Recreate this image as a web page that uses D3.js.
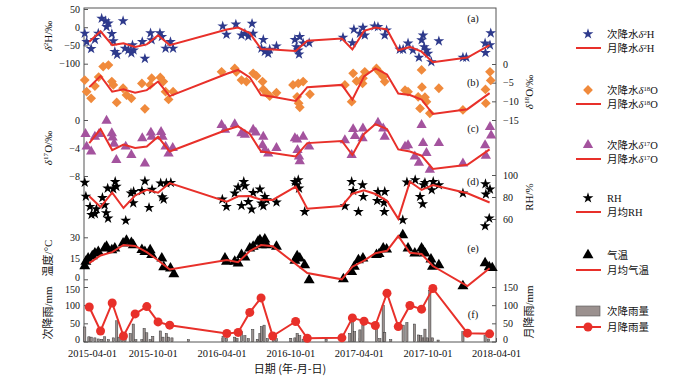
<!DOCTYPE html>
<html><head><meta charset="utf-8">
<script src="https://cdn.jsdelivr.net/npm/d3@7"></script>
<style>body{margin:0;background:#fff}</style>
</head><body><svg id="c" width="700" height="379"></svg>
<script>
// ---------- data ----------
const months = ["2015-04","2015-05","2015-06","2015-07","2015-08","2015-09","2015-10","2015-11",
  "2016-04","2016-05","2016-06","2016-07","2016-08","2016-10","2016-11",
  "2017-02","2017-03","2017-04","2017-05","2017-06","2017-07","2017-08","2017-09","2017-10",
  "2018-01","2018-03"];
const d2hMonthly = [-40,-11,-49,-44,-54,-47,-22,-49, -6,-1,-16,-60,-61,-65,-37, -31,-61,-10,-1,-6,-63,-54,-67,-96, -83,-49];
const d18oMonthly = [-6.2,-3.2,-7.4,-6.8,-7.7,-7.0,-4.7,-8.6, -2.6,-1.6,-3.6,-8.3,-8.8,-9.9,-6.2, -5.6,-9.5,-3.3,-1.2,-2.8,-7.9,-8.3,-9.5,-13.4, -12.1,-7.8];
const d17oMonthly = [-3.3,-1.3,-4.3,-3.5,-4.0,-3.8,-2.4,-4.5, -1.4,-0.9,-2.0,-4.5,-4.7,-5.2,-3.3, -3.0,-5.0,-2.0,-0.6,-1.3,-4.2,-4.5,-5.1,-7.0, -6.4,-4.2];
const rhMonthly = [80.6,70.9,83.9,70,81.4,86.6,83.9,92.7, 75.7,80.6,80.9,77.5,77.3,89.4,69.4, 71.8,83,86.1,82.7,76.5,60.2,93.9,86.4,90.9, 83.4,75];
const tMonthly = [11.6,17,19.4,24.5,23.8,19.4,13.6,7, 13.8,12.2,20.2,24.5,23.6,10.9,4.5, 0,9,13.4,18.6,20.4,30.9,19,18.1,9.5, -4.8,7.9];
const rainMonthly = [95,29,106,15,76,96,54,45, 22,25,80,120,15,55,9, 10,65,56,44,133,41,99,89,146, 23,21];

const d2hEvents = [["2015-04-03",-17],["2015-04-08",-40],["2015-04-20",-59],["2015-04-30",-34],["2015-05-09",-17],["2015-05-18",24],["2015-05-28",17],["2015-06-05",11],["2015-05-31",1],["2015-06-14",-18],["2015-06-18",-38],["2015-06-22",-67],["2015-06-28",-75],["2015-07-14",17],["2015-07-19",-58],["2015-07-28",-63],["2015-08-05",-71],["2015-08-11",-63],["2015-08-08",-49],["2015-09-03",-40],["2015-09-10",-86],["2015-09-25",-16],["2015-09-28",-35],["2015-10-20",-16],["2015-10-25",-26],["2015-11-04",-58],["2015-11-17",-40],["2015-11-24",-58],
["2016-04-04",3],["2016-04-14",-20],["2016-05-09",8],["2016-05-24",-22],["2016-06-02",-17],["2016-06-11",-25],["2016-06-21",10],["2016-06-24",-17],["2016-07-21",-34],["2016-07-16",-58],["2016-07-25",-67],["2016-08-03",-72],["2016-08-07",-61],["2016-08-25",-52],["2016-10-13",-34],["2016-10-17",-54],["2016-10-22",-63],["2016-10-24",-74],["2016-10-26",-26],["2016-11-04",-44],["2016-11-20",-43],
["2017-02-18",-28],["2017-03-15",-43],["2017-03-19",-6],["2017-04-04",-17],["2017-04-12",-1],["2017-04-17",-22],["2017-05-13",3],["2017-05-22",1],["2017-06-14",-8],["2017-06-09",-22],["2017-07-19",-61],["2017-07-28",-61],["2017-08-10",-44],["2017-08-23",-63],["2017-09-08",-83],["2017-09-15",-35],["2017-09-19",-22],["2017-09-22",-54],["2017-09-28",-63],["2017-10-02",-72],["2017-10-31",-38],["2017-10-11",-95],["2018-01-03",-83],["2018-01-12",-83],["2018-03-03",-44],["2018-03-18",-16],["2018-03-04",-70],["2018-03-16",-49]];

const d18oEvents = [["2015-04-03",-4.3],["2015-04-08",-7.4],["2015-04-20",-9.2],["2015-04-30",-5.9],["2015-05-10",-3.5],["2015-05-22",-0.7],["2015-06-05",-0.3],["2015-06-14",-4.7],["2015-06-18",-5.6],["2015-06-27",-10.3],["2015-07-14",-6.5],["2015-07-23",-8.3],["2015-08-05",-9.2],["2015-09-02",-5.2],["2015-09-10",-12],["2015-09-28",-3.8],["2015-09-24",-5.6],["2015-10-21",-3.6],["2015-10-29",-4.7],["2015-11-04",-7.4],["2015-11-12",-9.5],["2015-11-24",-7.4],
["2016-04-01",-2.1],["2016-05-06",-1.2],["2016-05-10",-2.1],["2016-05-24",-4.3],["2016-06-06",-4.7],["2016-06-24",-2.5],["2016-07-03",-3.2],["2016-07-19",-4.7],["2016-07-21",-6.8],["2016-07-30",-7.8],["2016-08-07",-8.6],["2016-08-25",-7.7],["2016-10-08",-5.6],["2016-10-22",-5.2],["2016-11-04",-4.7],["2016-10-19",-8.8],["2016-10-23",-10.5],["2016-10-26",-11.6],["2016-11-22",-8.1],
["2017-02-23",-5.6],["2017-03-13",-10.1],["2017-03-17",-2.5],["2017-03-26",-4.6],["2017-04-12",-3.8],["2017-04-11",-5.2],["2017-04-17",-2.1],["2017-05-18",-1.2],["2017-05-25",-2.1],["2017-06-05",-3.4],["2017-06-09",-4.7],["2017-08-02",-7],["2017-08-10",-7.4],["2017-09-06",-8.8],["2017-09-11",-11.9],["2017-09-15",-1.6],["2017-09-16",-6.2],["2017-09-24",-8.9],["2017-09-28",-10.1],["2017-10-07",-13.2],["2017-10-31",-6.5],["2018-01-03",-12.3],["2018-03-04",-6.8],["2018-03-05",-10.5],["2018-03-16",-2.1],["2018-03-18",-4.4]];

const d17oEvents = [["2015-04-05",-2],["2015-04-08",-3.8],["2015-04-20",-4.5],["2015-04-30",-2.4],["2015-05-11",-2],["2015-05-31",-0.1],["2015-06-14",-1.9],["2015-06-16",-2.5],["2015-06-20",-3.4],["2015-06-26",-5.7],["2015-07-21",-3.8],["2015-08-05",-5],["2015-09-03",-2.6],["2015-09-10",-6.2],["2015-09-26",-1.8],["2015-09-28",-2.4],["2015-10-23",-1.7],["2015-10-27",-2.4],["2015-11-04",-3.8],["2015-11-12",-4.8],["2015-11-23",-4],
["2016-04-01",-0.7],["2016-04-10",-1.4],["2016-05-06",-0.6],["2016-05-24",-1.9],["2016-06-02",-2.1],["2016-06-24",-1.4],["2016-07-01",-1.8],["2016-07-21",-2.4],["2016-07-19",-3.6],["2016-07-25",-4.3],["2016-08-03",-4.8],["2016-08-25",-4],["2016-10-13",-2.6],["2016-10-19",-2.8],["2016-11-04",-2.4],["2016-10-20",-4.3],["2016-10-24",-5.2],["2016-10-26",-5.9],["2016-11-20",-3.8],
["2017-02-23",-2.9],["2017-03-13",-5],["2017-03-17",-1.3],["2017-03-22",-2.3],["2017-04-12",-1.2],["2017-04-11",-2.6],["2017-05-22",-0.4],["2017-06-05",-1.2],["2017-06-09",-2.4],["2017-08-02",-3.8],["2017-08-10",-3.6],["2017-08-28",-5.2],["2017-09-08",-6.1],["2017-09-15",-0.7],["2017-09-19",-3.3],["2017-09-28",-4.7],["2017-10-07",-7.1],["2017-10-31",-3.3],["2018-01-03",-6.2],["2018-03-03",-3.6],["2018-03-05",-5.1],["2018-03-16",-1],["2018-03-19",-2.2]];

const rhEvents = [["2015-04-03",93.2],["2015-04-06",80.5],["2015-04-17",71.2],["2015-04-21",63.9],["2015-04-30",64.7],["2015-05-04",69.1],["2015-05-20",79.3],["2015-05-26",72.7],["2015-05-30",65.5],["2015-06-04",60.6],["2015-06-03",87.9],["2015-06-18",87.3],["2015-06-23",93.9],["2015-06-26",89.5],["2015-07-21",58.6],["2015-08-04",83.4],["2015-08-11",84.8],["2015-08-10",74.5],["2015-09-02",85.6],["2015-09-10",94.4],["2015-09-21",70.3],["2015-09-29",86.8],["2015-10-22",92.5],["2015-10-26",80],["2015-10-30",77.9],["2015-11-06",92.5],["2015-11-18",93],
["2016-04-03",77.9],["2016-04-14",71.2],["2016-05-06",83.4],["2016-05-15",88.8],["2016-05-30",93.9],["2016-06-02",90],["2016-05-24",72.1],["2016-06-11",75.7],["2016-06-20",68.8],["2016-06-24",83.9],["2016-07-12",87],["2016-07-16",74.3],["2016-07-25",80.3],["2016-07-30",77.3],["2016-07-21",71.8],["2016-08-25",75.2],["2016-10-13",93.9],["2016-10-17",90.9],["2016-10-24",87.9],["2016-10-22",95.5],["2016-11-08",66.6],
["2017-02-23",71.8],["2017-03-13",93.9],["2017-03-17",85.7],["2017-03-31",66.6],["2017-04-11",90.9],["2017-04-13",80.3],["2017-05-22",84.8],["2017-06-09",84.8],["2017-05-20",76.6],["2017-06-07",74.8],["2017-06-08",66.6],["2017-07-27",59.1],["2017-08-07",93.4],["2017-08-29",95.5],["2017-09-11",80.3],["2017-09-18",73.6],["2017-09-20",90.9],["2017-09-24",93],["2017-10-12",86.4],["2017-10-16",93.9],["2017-10-31",90.9],["2018-01-03",83.4],["2018-03-04",91.8],["2018-03-16",87],["2018-03-05",82.5],["2018-03-14",60.6],["2018-03-03",53.6]];

const tEvents = [["2015-04-03",9.5],["2015-04-06",12.6],["2015-04-12",15],["2015-04-23",16.6],["2015-04-30",18.6],["2015-05-09",19.7],["2015-05-26",22.1],["2015-05-31",23.3],["2015-06-14",20.9],["2015-06-22",22.1],["2015-07-14",25.7],["2015-07-23",27.6],["2015-08-05",26.1],["2015-08-10",24.5],["2015-09-02",21.1],["2015-09-10",19.7],["2015-09-24",20.9],["2015-09-28",17.4],["2015-10-25",15],["2015-10-30",8.8],["2015-11-17",7.9],["2015-11-26",3.8],
["2016-04-10",15],["2016-04-14",12.6],["2016-05-06",12.6],["2016-05-15",11.4],["2016-05-24",17.4],["2016-06-02",15.7],["2016-06-15",22.1],["2016-06-24",23.3],["2016-07-07",26.9],["2016-07-12",28.1],["2016-07-25",28.6],["2016-07-16",24.5],["2016-07-30",24.5],["2016-08-25",23.3],["2016-10-13",13.3],["2016-10-19",16.6],["2016-10-26",15],["2016-11-08",10.2],["2016-11-20",-0.5],
["2017-02-19",0.2],["2017-03-13",5.4],["2017-03-20",9],["2017-03-31",13.8],["2017-04-12",15],["2017-05-18",17.4],["2017-05-25",18.1],["2017-06-05",22.1],["2017-06-14",21.4],["2017-07-27",31.6],["2017-08-10",22.1],["2017-08-28",18.6],["2017-09-15",22.1],["2017-09-19",20.4],["2017-09-24",18.6],["2017-10-10",14.3],["2017-10-14",9],["2017-10-31",10.2],["2018-01-03",-4.8],["2018-03-03",11.6],["2018-03-14",8.8],["2018-03-22",8.1]];

const rainEvents = [["2015-04-03",40],["2015-04-14",13],["2015-04-20",12],["2015-04-30",10],["2015-05-09",7],["2015-05-18",6],["2015-05-26",13],["2015-06-05",5],["2015-06-18",10],["2015-06-27",57],["2015-07-03",12],["2015-07-11",5],["2015-07-19",14],["2015-08-02",22],["2015-08-10",48],["2015-08-17",5],["2015-09-02",5],["2015-09-08",36],["2015-09-15",24],["2015-09-24",5],["2015-10-01",14],["2015-10-21",29],["2015-10-28",12],["2015-11-06",22],["2015-11-12",12],["2015-11-21",10],["2016-01-04",5],
["2016-04-05",14],["2016-04-14",8],["2016-05-06",12],["2016-05-12",8],["2016-05-24",27],["2016-06-02",16],["2016-06-11",8],["2016-06-23",33],["2016-07-05",6],["2016-07-12",22],["2016-07-16",41],["2016-07-23",45],["2016-08-01",8],["2016-08-17",10],["2016-08-25",8],["2016-10-02",8],["2016-10-13",10],["2016-10-19",22],["2016-10-26",16],["2016-11-04",6],["2016-11-11",6],["2017-01-04",6],
["2017-03-08",22],["2017-03-15",55],["2017-03-21",27],["2017-04-04",32],["2017-04-12",45],["2017-05-18",40],["2017-05-27",8],["2017-06-05",100],["2017-06-09",25],["2017-06-25",5],["2017-07-28",45],["2017-08-07",52],["2017-08-27",48],["2017-09-07",18],["2017-09-13",16],["2017-09-19",10],["2017-09-24",34],["2017-09-30",10],["2017-10-07",140],["2017-10-14",10],["2017-10-29",4],["2018-01-03",27],["2018-03-03",16],["2018-03-12",7]];

const xTicks = ["2015-04-01","2015-10-01","2016-04-01","2016-10-01","2017-04-01","2017-10-01","2018-04-01"];
const ticksA = [50,0,-50,-100], ticksB = [0,-5,-10,-15], ticksC = [0,-4,-8], ticksD = [100,80,60], ticksE = [30,15,0], ticksF = [0,50,100,150];

// ---------- drawing ----------
const svg = d3.select("#c");
const parse = d3.timeParse("%Y-%m-%d");
const pm = m => parse(m + "-15");
const L = 84, R = 496, T = 8, B = 342;
const x = d3.scaleTime().domain([parse("2015-04-01"), parse("2018-04-01")]).range([L, R]);
const yA = d3.scaleLinear().domain([-100, 50]).range([63.7, 9]);
const yB = d3.scaleLinear().domain([-15, 0]).range([120, 64]);
const yC = d3.scaleLinear().domain([-8, 0]).range([176, 120]);
const yD = d3.scaleLinear().domain([60, 100]).range([219, 175]);
const yE = d3.scaleLinear().domain([0, 30]).range([279.3, 237.3]);
const yF = d3.scaleLinear().domain([0, 150]).range([341.5, 287]);

const SERIF = "'Liberation Serif','Times New Roman',serif";
const CJK = "'Noto Sans CJK SC','Liberation Serif',serif";
const RED = "#e8302a";
const fmt = v => (v < 0 ? "\u2212" + Math.abs(v) : String(v));

// frame
svg.append("rect").attr("x", L).attr("y", T).attr("width", R - L).attr("height", B - T)
  .attr("fill", "none").attr("stroke", "#555").attr("stroke-width", 1);

function styleAxis(g) {
  g.select(".domain").remove();
  g.selectAll("line").attr("stroke", "#555");
  g.selectAll("text").attr("font-family", SERIF).attr("font-size", 10).attr("fill", "#111");
}
function leftAxis(scale, ticks) {
  const g = svg.append("g").attr("transform", `translate(${L},0)`)
    .call(d3.axisLeft(scale).tickValues(ticks).tickFormat(fmt).tickSize(-4).tickPadding(4));
  styleAxis(g);
  return g;
}
function rightAxis(scale, ticks) {
  const g = svg.append("g").attr("transform", `translate(${R},0)`)
    .call(d3.axisRight(scale).tickValues(ticks).tickFormat(fmt).tickSize(-4).tickPadding(7));
  styleAxis(g);
  return g;
}
leftAxis(yA, ticksA); rightAxis(yB, ticksB); leftAxis(yC, ticksC);
rightAxis(yD, ticksD);
const gE = leftAxis(yE, ticksE);
const gF = leftAxis(yF, ticksF);
const gF2 = rightAxis(yF, ticksF);
// keep stacked labels apart as in the reference
gE.selectAll(".tick text").filter(d => d === 0).attr("dy", "0.1em");
gF.selectAll(".tick text").filter(d => d === 150).attr("dy", "0.55em");
gF.selectAll(".tick text").filter(d => d === 0).attr("dy", "0.1em");
gF2.selectAll(".tick text").filter(d => d === 0).attr("dy", "0.1em");

// x axis
const gx = svg.append("g").attr("transform", `translate(0,${B})`)
  .call(d3.axisBottom(x).tickValues(xTicks.map(parse)).tickFormat(d3.timeFormat("%Y-%m-%d")).tickSize(-4).tickPadding(8));
styleAxis(gx);
gx.selectAll("text").attr("font-size", 10.5);
gx.select(".tick:first-of-type text").attr("dx", 8);

// rain bars
const barW = 2.2;
svg.append("g").selectAll("rect").data(rainEvents).join("rect")
  .attr("x", d => x(parse(d[0])) - barW / 2).attr("y", d => yF(d[1]))
  .attr("width", barW).attr("height", d => yF(0) - yF(d[1]))
  .attr("fill", "#9b918f").attr("stroke", "#333").attr("stroke-width", 0.5);

// scatter helpers
const sym = (type, size) => d3.symbol(type, size)();
function scatter(data, y, type, size, fill, rot) {
  svg.append("g").selectAll("path").data(data).join("path")
    .attr("d", sym(type, size))
    .attr("transform", d => `translate(${x(parse(d[0]))},${y(d[1])})${rot ? " rotate(" + rot + ")" : ""}`)
    .attr("fill", fill);
}
function monthly(vals, y, dots) {
  const pts = months.map((m, i) => [x(pm(m)), y(vals[i])]);
  svg.append("path").attr("d", d3.line()(pts)).attr("fill", "none")
    .attr("stroke", RED).attr("stroke-width", 2);
  if (dots) svg.append("g").selectAll("circle").data(pts).join("circle")
    .attr("cx", d => d[0]).attr("cy", d => d[1]).attr("r", 4.5).attr("fill", RED);
}

scatter(d2hEvents, yA, d3.symbolStar, 36, "#2e3a8c");
monthly(d2hMonthly, yA);
scatter(d18oEvents, yB, d3.symbolSquare, 48, "#f08a3c", 45);
monthly(d18oMonthly, yB);
scatter(d17oEvents, yC, d3.symbolTriangle, 46, "#a4539e");
monthly(d17oMonthly, yC);
scatter(rhEvents, yD, d3.symbolStar, 36, "#000");
monthly(rhMonthly, yD);
scatter(tEvents, yE, d3.symbolTriangle, 52, "#000");
monthly(tMonthly, yE);
monthly(rainMonthly, yF, true);

// panel labels
const panelLabels = [["(a)", yA(25)], ["(b)", yB(-4.8)], ["(c)", yC(-1.2)], ["(d)", yD(94)], ["(e)", yE(22)], ["(f)", yF(75)]];
svg.append("g").selectAll("text").data(panelLabels).join("text")
  .attr("x", 473).attr("y", d => d[1]).attr("dy", "0.35em").attr("text-anchor", "middle")
  .attr("font-family", SERIF).attr("font-size", 10.5).attr("fill", "#111").text(d => d[0]);

// rich text helper (superscripts via baseline-shift)
function rich(t, parts) {
  parts.forEach(p => {
    const s = t.append("tspan").text(p.t);
    if (p.i) s.attr("font-style", "italic");
    if (p.sup) s.attr("font-size", "65%").attr("baseline-shift", "super");
    if (p.cjk) s.attr("font-family", CJK);
  });
}
function vtitle(xp, yp, parts) {
  const t = svg.append("text").attr("transform", `translate(${xp},${yp}) rotate(-90)`)
    .attr("text-anchor", "middle").attr("font-size", 11).attr("fill", "#111").attr("font-family", SERIF);
  rich(t, parts);
}
vtitle(52, 36, [{t:"δ",i:1},{t:"2",sup:1},{t:"H/‰"}]);
vtitle(533, 92, [{t:"δ",i:1},{t:"18",sup:1},{t:"O/‰"}]);
vtitle(52, 148, [{t:"δ",i:1},{t:"17",sup:1},{t:"O/‰"}]);
vtitle(533, 197, [{t:"RH/%"}]);
vtitle(52, 258, [{t:"温度",cjk:1},{t:"/°C"}]);
vtitle(52, 313, [{t:"次降雨",cjk:1},{t:"/mm"}]);
vtitle(533, 312, [{t:"月降雨",cjk:1},{t:"/mm"}]);

svg.append("text").attr("x", 290).attr("y", 373).attr("text-anchor", "middle")
  .attr("font-size", 11).attr("fill", "#111").attr("font-family", CJK)
  .text("日期 (年-月-日)");

// legend
const legend = [
  {kind:"sym", type:d3.symbolStar, size:36, fill:"#2e3a8c", y:34, parts:[{t:"次降水",cjk:1},{t:"δ",i:1},{t:"2",sup:1},{t:"H"}]},
  {kind:"line", y:48, parts:[{t:"月降水",cjk:1},{t:"δ",i:1},{t:"2",sup:1},{t:"H"}]},
  {kind:"sym", type:d3.symbolSquare, size:48, rot:45, fill:"#f08a3c", y:90, parts:[{t:"次降水",cjk:1},{t:"δ",i:1},{t:"18",sup:1},{t:"O"}]},
  {kind:"line", y:104, parts:[{t:"月降水",cjk:1},{t:"δ",i:1},{t:"18",sup:1},{t:"O"}]},
  {kind:"sym", type:d3.symbolTriangle, size:46, fill:"#a4539e", y:145, parts:[{t:"次降水",cjk:1},{t:"δ",i:1},{t:"17",sup:1},{t:"O"}]},
  {kind:"line", y:159, parts:[{t:"月降水",cjk:1},{t:"δ",i:1},{t:"17",sup:1},{t:"O"}]},
  {kind:"sym", type:d3.symbolStar, size:36, fill:"#000", y:198, parts:[{t:"RH"}]},
  {kind:"line", y:212, parts:[{t:"月均",cjk:1},{t:"RH"}]},
  {kind:"sym", type:d3.symbolTriangle, size:52, fill:"#000", y:255, parts:[{t:"气温",cjk:1}]},
  {kind:"line", y:270, parts:[{t:"月均气温",cjk:1}]},
  {kind:"bar", y:311, parts:[{t:"次降雨量",cjk:1}]},
  {kind:"dot", y:327, parts:[{t:"月降雨量",cjk:1}]}
];
const lg = svg.append("g");
legend.forEach(d => {
  if (d.kind === "sym") lg.append("path").attr("d", sym(d.type, d.size))
    .attr("transform", `translate(588,${d.y})${d.rot ? " rotate(" + d.rot + ")" : ""}`).attr("fill", d.fill);
  if (d.kind === "line" || d.kind === "dot") lg.append("line").attr("x1", 576).attr("x2", 601)
    .attr("y1", d.y).attr("y2", d.y).attr("stroke", RED).attr("stroke-width", 2);
  if (d.kind === "dot") lg.append("circle").attr("cx", 588).attr("cy", d.y).attr("r", 4.5).attr("fill", RED);
  if (d.kind === "bar") lg.append("rect").attr("x", 576).attr("y", d.y - 5).attr("width", 24).attr("height", 10)
    .attr("fill", "#9b918f").attr("stroke", "#555").attr("stroke-width", 0.6);
  const t = lg.append("text").attr("x", 607).attr("y", d.y + 4)
    .attr("font-size", 10.5).attr("fill", "#111").attr("font-family", SERIF);
  rich(t, d.parts);
});
</script></body></html>
